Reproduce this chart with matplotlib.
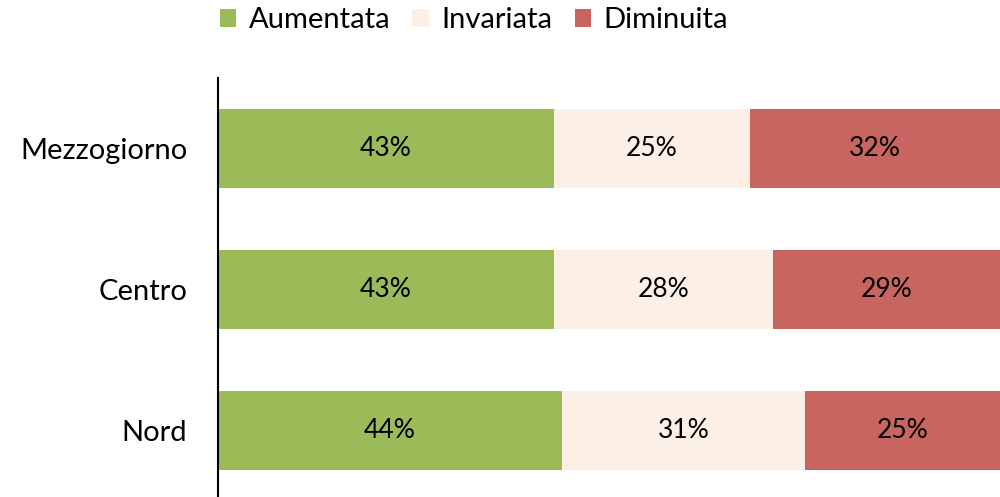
import matplotlib
matplotlib.use("Agg")
import matplotlib.pyplot as plt
from matplotlib.patches import Patch

# quota di risposte per area geografica (%)
regioni = ["Nord", "Centro", "Mezzogiorno"]
aumentata = [44, 43, 43]
invariata = [31, 28, 25]
diminuita = [25, 29, 32]

serie = [("Aumentata", aumentata, "#9BBB59"),
         ("Invariata", invariata, "#FCEFE5"),
         ("Diminuita", diminuita, "#C96561")]

plt.rcParams["font.family"] = ["Lato", "DejaVu Sans"]

fig = plt.figure(figsize=(10, 4.97), dpi=100)
ax = fig.add_axes([0.218, -0.008, 0.782, 0.851])

left = [0] * len(regioni)
for nome, valori, colore in serie:
    bars = ax.barh(range(len(regioni)), valori, left=left, height=0.567,
                   color=colore, edgecolor="none")
    for b, v in zip(bars, valori):
        ax.text(b.get_x() + b.get_width() / 2, b.get_y() + b.get_height() / 2,
                f"{v}%", ha="center", va="center", fontsize=19, color="black")
    left = [l + v for l, v in zip(left, valori)]

ax.set_xlim(0, 100)
ax.set_ylim(-0.5, 2.5)
ax.set_yticks(range(len(regioni)))
ax.set_yticklabels(regioni, fontsize=21)
ax.tick_params(axis="y", length=0, pad=22)
ax.set_xticks([])
for s in ["top", "right", "bottom"]:
    ax.spines[s].set_visible(False)
ax.spines["left"].set_linewidth(1.5)

handles = [Patch(facecolor=c, edgecolor="none", label=n) for n, _, c in serie]
fig.legend(handles=handles, loc="upper center", bbox_to_anchor=(0.474, 1.038),
           ncol=3, frameon=False, fontsize=21, handlelength=0.55, handleheight=0.55,
           handletextpad=0.45, columnspacing=0.75)

fig.savefig("out.png", dpi=100)
